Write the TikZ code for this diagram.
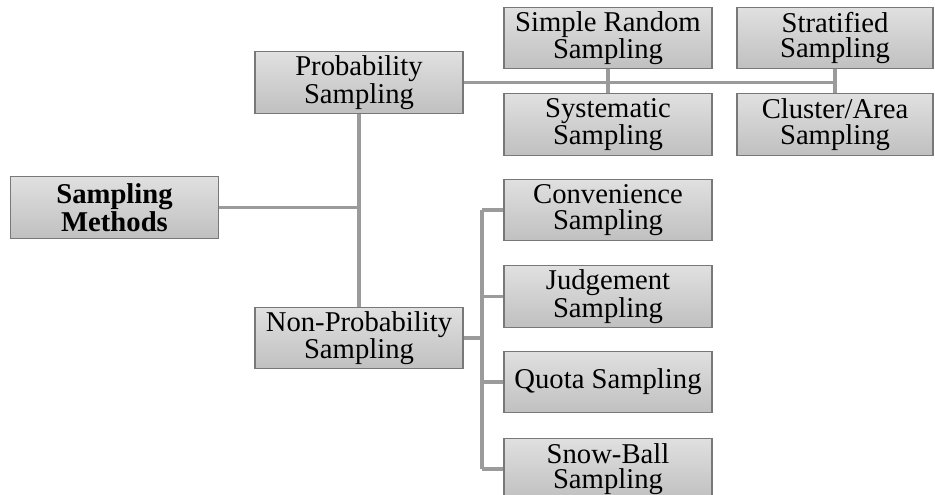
\documentclass[tikz,border=0pt]{standalone}
\usepackage{fontspec}
\setmainfont{Liberation Serif}
\definecolor{boxtop}{RGB}{224,224,224}
\definecolor{boxbot}{RGB}{192,192,192}
\definecolor{boxline}{RGB}{120,120,120}
\definecolor{linkgray}{RGB}{155,155,155}
\tikzset{
  sbox/.style={rectangle, draw=boxline, line width=0.8pt, top color=boxtop, bottom color=boxbot,
    minimum width=156pt, minimum height=46pt, inner sep=0pt, align=center,
    font=\fontsize{21.5}{19}\selectfont},
  link/.style={draw=linkgray, line width=2.3pt}
}
\begin{document}
\begin{tikzpicture}[x=0.75pt,y=-0.75pt]
\useasboundingbox (0,0) rectangle (935,495);
% root and the two branches
\node[sbox, font=\fontsize{21.5}{19}\selectfont\bfseries] (meth) at (114.5,207.5) {Sampling\\Methods};
\node[sbox] (prob) at (359,82.5) {Probability\\Sampling};
\node[sbox] (nonp) at (359,338) {Non-Probability\\Sampling};

% probability sampling
\node[sbox] (simp) at (608,38) {Simple Random\\Sampling};
\node[sbox] (syst) at (608,124.5) {Systematic\\Sampling};
\node[sbox, minimum width=147pt] (strat) at (835,38) {Stratified\\Sampling};
\node[sbox, minimum width=147pt] (clus) at (835,124.5) {Cluster/Area\\Sampling};

% non-probability sampling
\node[sbox] (conv) at (608,210) {Convenience\\Sampling};
\node[sbox] (judg) at (608,296.5) {Judgement\\Sampling};
\node[sbox] (quot) at (608,382) {Quota Sampling};
\node[sbox] (snow) at (608,469) {Snow-Ball\\Sampling};

% connectors
\draw[link] (prob.south) -- (nonp.north);
\draw[link] (meth.east) -- (meth.east -| prob.south);
\draw[link] (prob.east) -- (prob.east -| strat.south);
\draw[link] (simp.south) -- (syst.north);
\draw[link] (strat.south) -- (clus.north);

\coordinate (nj) at (482,338);
\draw[link] (nonp.east) -- (nj);
\draw[link] (conv.west -| nj) -- (snow.west -| nj);
\foreach \n in {conv,judg,quot,snow}{
\draw[link] (\n.west) -- (\n.west -| nj);
}
\end{tikzpicture}
\end{document}
